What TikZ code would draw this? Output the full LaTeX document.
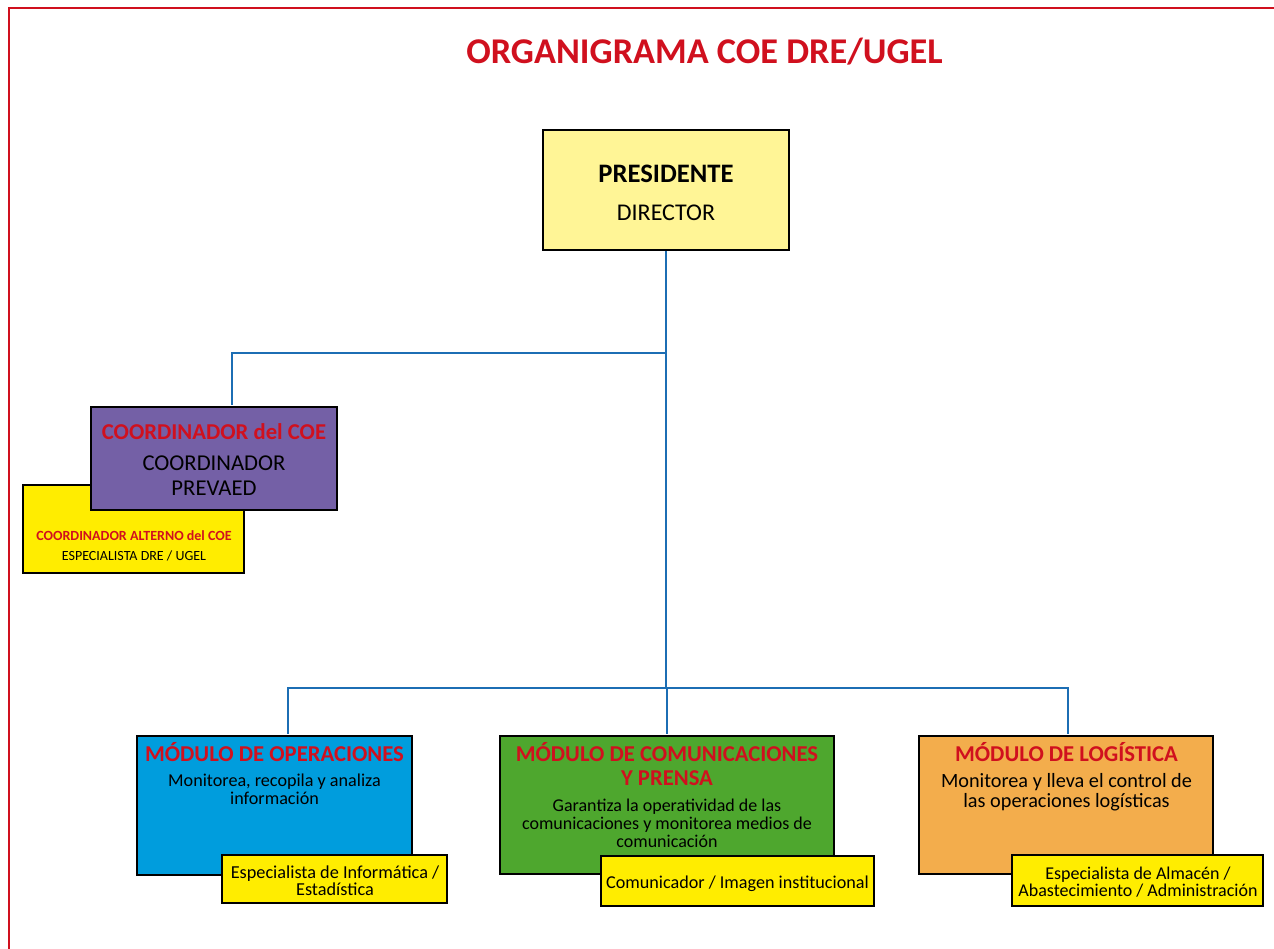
\documentclass[tikz,border=0pt]{standalone}
\usepackage{fontspec}
\setmainfont{Carlito}
\usetikzlibrary{positioning}
\definecolor{rojo}{HTML}{D0101E}
\definecolor{linea}{HTML}{1C6EB4}
\definecolor{amarillo}{HTML}{FFED00}
\definecolor{palido}{HTML}{FFF596}
\definecolor{morado}{HTML}{7460A6}
\definecolor{celeste}{HTML}{009DDD}
\definecolor{verde}{HTML}{4EA72E}
\definecolor{naranja}{HTML}{F3AD4C}

\begin{document}
\begin{tikzpicture}[x=0.75pt,y=-0.75pt,
    caja/.style={draw=black,line width=1.5pt,inner sep=0pt},
    rama/.style={draw=linea,line width=1.5pt,shorten >=0.75pt},
    texto/.style={anchor=base,align=center,inner sep=0pt},
    titmod/.style={texto,text=rojo,font=\bfseries\fontsize{17}{17.6}\selectfont}]
    \useasboundingbox (0,0) rectangle (1274,949);
    \draw[rojo,line width=1.7pt] (9.2,949) -- (9.2,7.8) -- (1274,7.8);

    \node[texto,text=rojo,font=\bfseries\fontsize{27.2}{30}\selectfont] (titulo) at (704.5,63.3) {ORGANIGRAMA COE DRE/UGEL};

    \node[caja,fill=palido,minimum width=184.5pt,minimum height=90pt] (pres) at (666,190) {};
    \node[caja,fill=amarillo,minimum width=165.75pt,minimum height=66pt] (alt) at (133.5,529) {};
    \node[caja,fill=morado,minimum width=184.5pt,minimum height=77.25pt] (coord) at (214,458.5) {};

    \node[caja,fill=celeste,minimum width=206.25pt,minimum height=104.25pt] (op) at (274.5,805.5) {};
    \node[caja,fill=verde,minimum width=250.5pt,minimum height=103.5pt] (com) at (667,805) {};
    \node[caja,fill=naranja,minimum width=220.5pt,minimum height=103.5pt] (log) at (1066,805) {};
    \node[caja,fill=amarillo,minimum width=168.75pt,minimum height=36pt] (opY) at (334.5,879) {};
    \node[caja,fill=amarillo,minimum width=204.75pt,minimum height=37.5pt] (comY) at (737.5,881) {};
    \node[caja,fill=amarillo,minimum width=188.25pt,minimum height=38.25pt] (logY) at (1137.5,880.5) {};

    \path (pres.south) ++(0,102) coordinate (j1) ++(0,335) coordinate (j2);
    \draw[rama] (pres.south) -- (j2);
    \draw[rama] (j1) -| ([xshift=13.5pt]coord.north);
    \foreach \m/\d in {op/10.125pt,com/0pt,log/1.5pt}
        \draw[rama] (j2) -| ([xshift=\d]\m.north);

    \node[texto,font=\fontsize{18}{28.5}\selectfont] (presT) at (666,220) {{\fontsize{20}{28.5}\selectfont\bfseries PRESIDENTE}\\DIRECTOR};

    \node[texto,text=rojo,font=\bfseries\fontsize{17}{20}\selectfont] (coordT) at (214,439) {COORDINADOR del COE};
    \node[texto,font=\fontsize{17}{18.75}\selectfont] (coordD) at (214,495) {COORDINADOR\\PREVAED};
    \node[texto,text=rojo,font=\bfseries\fontsize{10.5}{12}\selectfont] (altT) at (134,540) {COORDINADOR ALTERNO del COE};
    \node[texto,font=\fontsize{10.5}{12}\selectfont] (altD) at (134,560) {ESPECIALISTA DRE / UGEL};

    \node[titmod] (opT) at (274.5,761.5) {MÓDULO DE OPERACIONES};
    \node[texto,font=\fontsize{13.6}{13}\selectfont] (opD) at (274.5,804) {Monitorea, recopila y analiza\\información};
    \node[texto,font=\fontsize{13.7}{13.1}\selectfont] (opYT) at (335,895.7) {Especialista de Informática /\\Estadística};

    \node[titmod] (comT) at (667,785) {MÓDULO DE COMUNICACIONES\\Y PRENSA};
    \node[texto,font=\fontsize{13.5}{13.5}\selectfont] (comD) at (667,847) {Garantiza la operatividad de las\\comunicaciones y monitorea medios de\\comunicación};
    \node[texto,font=\fontsize{13.6}{13.1}\selectfont] (comYT) at (737.5,888) {Comunicador / Imagen institucional};

    \node[titmod] (logT) at (1066.5,761) {MÓDULO DE LOGÍSTICA};
    \node[texto,font=\fontsize{15.2}{14.6}\selectfont] (logD) at (1066.5,807.3) {Monitorea y lleva el control de\\las operaciones logísticas};
    \node[texto,font=\fontsize{13.5}{13.1}\selectfont] (logYT) at (1138,896.7) {Especialista de Almacén /\\Abastecimiento / Administración};
\end{tikzpicture}
\end{document}
